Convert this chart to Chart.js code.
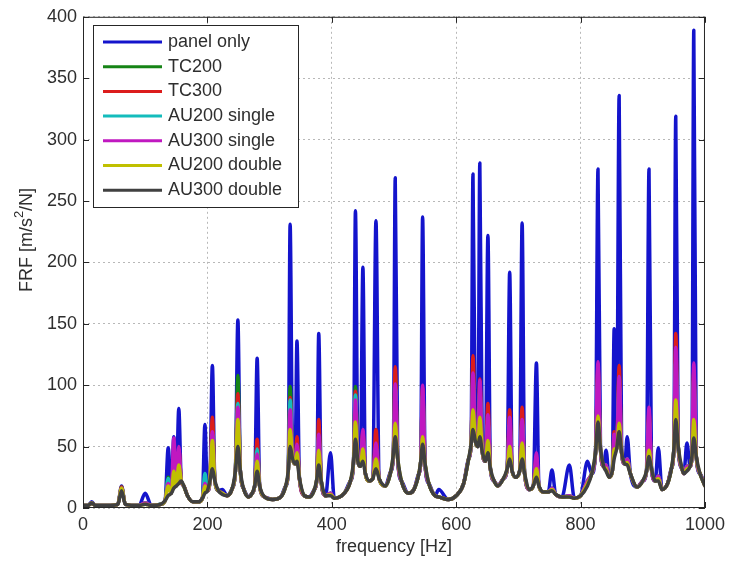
<!DOCTYPE html>
<html>
<head>
<meta charset="utf-8">
<title>FRF</title>
<script src="https://cdn.jsdelivr.net/npm/chart.js@4.4.0/dist/chart.umd.min.js"></script>
<style>
  html, body { margin: 0; padding: 0; background: #fff; }
  #frfChart { display: block; }
</style>
</head>
<body>
<canvas id="frfChart" width="731" height="562"></canvas>
<script>
// Legend names, in plotting order
const seriesLabels = ["panel only", "TC200", "TC300", "AU200 single", "AU300 single", "AU200 double", "AU300 double"];
const seriesColors = ["#1414cc", "#168416", "#dc1c1c", "#14bcbc", "#c018c0", "#c0c000", "#404040"];

// Resonance frequencies [Hz]
const peakHz = [14, 62, 100, 137, 146, 154, 196, 208, 224, 249, 280, 333, 344, 379, 398, 438, 450, 471, 502, 546,
  572, 627, 638, 651, 686, 706, 729, 754, 782, 811, 828, 841, 854, 862, 875, 910, 925, 953, 971, 982];

// Peak FRF [m/s^2/N] at each resonance
const panelOnly = [5, 18, 12, 49, 58, 81, 68, 116, 15, 153, 122, 231, 136, 142, 45, 242, 196, 234, 269, 237,
  15, 272, 281, 222, 192, 232, 118, 31, 35, 38, 276, 47, 146, 336, 58, 276, 49, 319, 53, 389];
const tc200 = [4, 17, 4, 25, 40, 45, 25, 70, 12, 108, 50, 99, 52, 65, 12, 99, 60, 55, 110, 95,
  9, 115, 100, 75, 72, 75, 40, 16, 10, 22, 110, 35, 60, 110, 40, 75, 26, 130, 34, 110];
const tc300 = [4, 17, 4, 22, 42, 48, 22, 74, 12, 93, 56, 90, 58, 72, 12, 95, 62, 64, 115, 98,
  9, 124, 105, 85, 80, 82, 42, 16, 10, 22, 115, 35, 62, 116, 40, 78, 26, 142, 34, 112];
const au200Single = [4, 16, 4, 24, 35, 42, 28, 60, 12, 85, 48, 88, 50, 58, 12, 92, 58, 50, 98, 92,
  9, 105, 95, 70, 68, 70, 38, 16, 10, 22, 105, 35, 58, 100, 40, 72, 26, 120, 34, 105];
const au300Single = [4, 16, 4, 20, 57, 50, 20, 62, 12, 82, 44, 80, 52, 60, 12, 88, 64, 53, 101, 100,
  9, 110, 104, 76, 74, 72, 45, 16, 10, 22, 119, 35, 60, 107, 40, 82, 26, 131, 34, 118];
const au200Double = [4, 16, 3, 18, 30, 35, 18, 55, 12, 72, 38, 64, 45, 47, 11, 70, 48, 40, 69, 58,
  9, 80, 74, 55, 50, 53, 32, 15, 9, 20, 75, 32, 48, 69, 37, 47, 24, 88, 32, 72];

// Full-band response of the most damped case (AU300 double); the other
// configurations follow it away from their resonance peaks
const baseHz = [0, 8, 14, 20, 40, 56, 62, 68, 90, 100, 110, 125, 132, 137, 142, 146, 150, 154, 158, 162,
  168, 177, 186, 192, 196, 200, 204, 208, 212, 218, 224, 232, 240, 245, 249, 253, 258, 266, 272, 276,
  280, 284, 292, 305, 318, 326, 330, 333, 337, 341, 344, 348, 356, 364, 372, 376, 379, 383, 390, 398,
  404, 420, 430, 435, 438, 442, 446, 450, 454, 460, 466, 471, 476, 486, 495, 499, 502, 506, 512, 523,
  532, 540, 543, 546, 550, 556, 566, 572, 587, 600, 612, 620, 624, 627, 631, 635, 638, 642, 647, 651,
  655, 661, 667, 676, 682, 686, 690, 696, 702, 706, 710, 718, 724, 729, 733, 740, 748, 754, 760, 770,
  782, 790, 800, 811, 818, 824, 828, 832, 837, 841, 846, 851, 854, 858, 862, 866, 871, 875, 880, 891,
  900, 906, 910, 914, 920, 925, 931, 940, 946, 950, 953, 957, 963, 966, 971, 976, 979, 982, 986, 992, 1000];
const au300Double = [2, 2, 4, 2, 2, 3, 14, 3, 2, 3, 2, 3, 6, 10, 12, 16, 18, 20, 22, 18,
  10, 5, 5, 8, 12, 14, 22, 32, 22, 14, 11, 10, 16, 30, 50, 30, 16, 9, 12, 18,
  30, 18, 9, 7, 9, 18, 30, 50, 40, 36, 38, 24, 10, 9, 15, 24, 35, 22, 10, 10,
  8, 12, 22, 38, 56, 38, 34, 38, 28, 22, 24, 32, 24, 18, 30, 44, 58, 40, 22, 12,
  15, 28, 38, 52, 36, 20, 10, 9, 7, 10, 20, 40, 52, 64, 54, 50, 58, 46, 38, 45,
  32, 22, 18, 24, 32, 40, 30, 25, 30, 40, 28, 15, 18, 25, 18, 13, 13, 14, 11, 9,
  9, 8, 10, 18, 28, 45, 70, 48, 34, 30, 25, 30, 40, 48, 62, 45, 36, 35, 28, 17,
  22, 30, 42, 32, 22, 22, 15, 20, 32, 48, 72, 50, 32, 28, 30, 34, 42, 57, 42, 28, 18];

const FONT = "'Liberation Sans', Arial, Helvetica, sans-serif";
const TEXT_COLOR = "#2e2e2e";

// Series follow the AU300 double curve except at their own peaks
const buildSeries = (peaks) => baseHz.map((f, i) => {
  const k = peakHz.indexOf(f);
  return { x: f, y: k >= 0 ? peaks[k] : au300Double[i] };
});

const seriesData = [
  buildSeries(panelOnly),
  buildSeries(tc200),
  buildSeries(tc300),
  buildSeries(au200Single),
  buildSeries(au300Single),
  buildSeries(au200Double),
  baseHz.map((f, i) => ({ x: f, y: au300Double[i] })),
];

const datasets = seriesData.map((data, i) => ({
  label: seriesLabels[i],
  data: data,
  borderColor: seriesColors[i],
  backgroundColor: seriesColors[i],
  // later series are painted over earlier ones
  order: seriesData.length - i,
}));

// Box, inward ticks, axis titles and legend in the plot corner
const framePlugin = {
  id: "frame",
  afterDraw(chart) {
    const { ctx, chartArea: a, scales: { x, y } } = chart;
    ctx.save();
    ctx.strokeStyle = "#262626";
    ctx.lineWidth = 1;
    ctx.strokeRect(a.left + 0.5, a.top + 0.5, a.right - a.left - 1, a.bottom - a.top - 1);

    ctx.beginPath();
    x.ticks.forEach((t) => {
      const px = Math.round(x.getPixelForValue(t.value)) + 0.5;
      ctx.moveTo(px, a.bottom); ctx.lineTo(px, a.bottom - 6);
      ctx.moveTo(px, a.top); ctx.lineTo(px, a.top + 6);
    });
    y.ticks.forEach((t) => {
      const py = Math.round(y.getPixelForValue(t.value)) + 0.5;
      ctx.moveTo(a.left, py); ctx.lineTo(a.left + 6, py);
      ctx.moveTo(a.right, py); ctx.lineTo(a.right - 6, py);
    });
    ctx.stroke();

    // x title
    ctx.fillStyle = TEXT_COLOR;
    ctx.font = "18px " + FONT;
    ctx.textAlign = "center";
    ctx.textBaseline = "middle";
    ctx.fillText("frequency [Hz]", (a.left + a.right) / 2, 547);

    // y title with a superscript 2
    ctx.save();
    ctx.translate(27, 240);
    ctx.rotate(-Math.PI / 2);
    ctx.textAlign = "left";
    ctx.textBaseline = "middle";
    const partA = "FRF [m/s", partB = "2", partC = "/N]";
    ctx.font = "18px " + FONT;
    const wA = ctx.measureText(partA).width, wC = ctx.measureText(partC).width;
    ctx.font = "13px " + FONT;
    const wB = ctx.measureText(partB).width;
    let cx = -(wA + wB + wC) / 2;
    ctx.font = "18px " + FONT;
    ctx.fillText(partA, cx, 0);
    cx += wA;
    ctx.font = "13px " + FONT;
    ctx.fillText(partB, cx, -8);
    cx += wB;
    ctx.font = "18px " + FONT;
    ctx.fillText(partC, cx, 0);
    ctx.restore();

    // legend
    const box = { left: 93, top: 25, right: 298, bottom: 207 };
    ctx.fillStyle = "#fff";
    ctx.fillRect(box.left, box.top, box.right - box.left, box.bottom - box.top);
    ctx.strokeStyle = "#262626";
    ctx.lineWidth = 1;
    ctx.strokeRect(box.left + 0.5, box.top + 0.5, box.right - box.left, box.bottom - box.top);
    ctx.font = "18px " + FONT;
    ctx.textAlign = "left";
    ctx.textBaseline = "middle";
    seriesLabels.forEach((name, i) => {
      const ry = 42 + i * 24.7;
      ctx.strokeStyle = seriesColors[i];
      ctx.lineWidth = 3;
      ctx.beginPath();
      ctx.moveTo(103, ry);
      ctx.lineTo(162, ry);
      ctx.stroke();
      ctx.fillStyle = TEXT_COLOR;
      ctx.fillText(name, 168, ry);
    });
    ctx.restore();
  },
};

new Chart(document.getElementById("frfChart"), {
  type: "line",
  data: { datasets },
  options: {
    responsive: false,
    animation: false,
    layout: { padding: { top: 15, right: 23, left: 0, bottom: 0 } },
    plugins: {
      legend: { display: false },
      tooltip: { enabled: false },
    },
    elements: {
      point: { radius: 0 },
      line: { borderWidth: 3.5, cubicInterpolationMode: "monotone", borderJoinStyle: "round", borderCapStyle: "round" },
    },
    scales: {
      x: {
        type: "linear",
        min: 0,
        max: 1000,
        afterFit: (s) => { s.height = 54; },
        ticks: {
          stepSize: 200,
          padding: 6,
          color: TEXT_COLOR,
          font: { family: FONT, size: 18 },
          callback: (v) => String(v),
        },
        grid: { color: "#b8b8b8", drawTicks: false },
        border: { display: false, dash: [2, 3] },
      },
      y: {
        min: 0,
        max: 400,
        afterFit: (s) => { s.width = 83; },
        ticks: { stepSize: 50, padding: 6, color: TEXT_COLOR, font: { family: FONT, size: 18 } },
        grid: { color: "#b8b8b8", drawTicks: false },
        border: { display: false, dash: [2, 3] },
      },
    },
  },
  plugins: [framePlugin],
});
</script>
</body>
</html>
